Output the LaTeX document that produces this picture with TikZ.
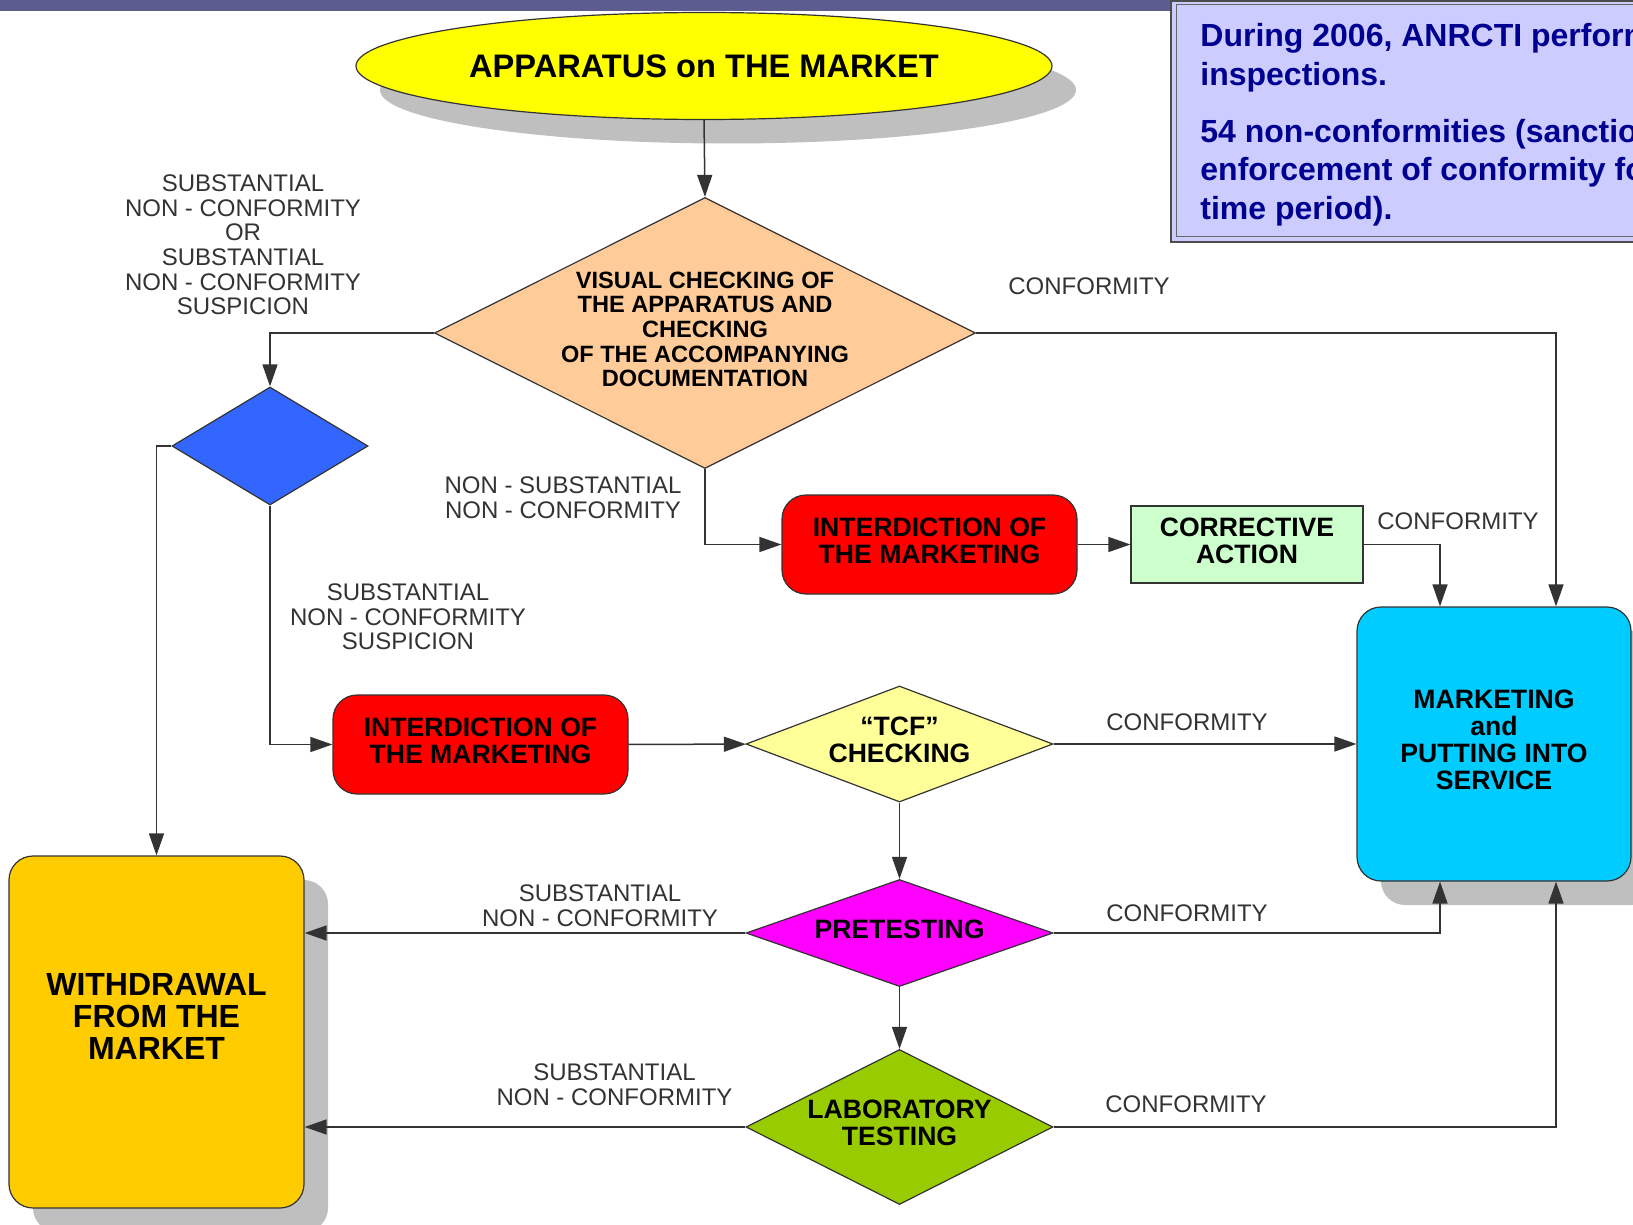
\documentclass[tikz,border=0pt]{standalone}
\usepackage{fontspec}
\setmainfont{Liberation Sans}
\usetikzlibrary{shapes.geometric,arrows.meta,shadows}
\definecolor{barcol}{HTML}{5C5C8E}
\definecolor{notefill}{HTML}{CCCCFF}
\definecolor{notetext}{HTML}{000091}
\definecolor{apyellow}{HTML}{FFFF00}
\definecolor{apricot}{HTML}{FFCC99}
\definecolor{suspblue}{HTML}{3366FF}
\definecolor{stopred}{HTML}{FF0000}
\definecolor{mint}{HTML}{CCFFCC}
\definecolor{skyblue}{HTML}{00CCFF}
\definecolor{paleyellow}{HTML}{FFFF99}
\definecolor{pretestpink}{HTML}{FF00FF}
\definecolor{leaf}{HTML}{99CC00}
\definecolor{wdgold}{HTML}{FFCC00}

\begin{document}
\begin{tikzpicture}[x=0.5pt, y=-0.5pt,
    outline/.style={draw=black!80, line width=0.6pt},
    block/.style={outline, align=center, font=\bfseries\fontsize{13.3pt}{13.5pt}\selectfont, execute at end node=\strut},
    check/.style={block, diamond, inner sep=0pt},
    remark/.style={align=center, text=black!80, font=\fontsize{12pt}{12.3pt}\selectfont},
    castshadow/.style={drop shadow={shadow xshift=12pt, shadow yshift=-12pt, fill=black!25, opacity=1}},
    flow/.style={draw=black!80, line width=0.75pt, -{Triangle[length=11pt, width=7.5pt]}}]
    \useasboundingbox (0,0) rectangle (1633,1225);
    \clip (0,0) rectangle (1633,1225);
    \fill[barcol] (0,0) rectangle (1173,11);
    \filldraw[fill=notefill, draw=black!70, line width=1pt] (1171,1) rectangle (1650,242);
    \draw[black!60, line width=0.5pt] (1176,5) rectangle (1650,237);
    \node[anchor=north west, align=left, inner sep=0pt, text=notetext, font=\bfseries\fontsize{16pt}{19.25pt}\selectfont] (facts) at (1200,23)
        {During 2006, ANRCTI perform\\inspections.\\[9.25pt]54 non-conformities (sanctio\\enforcement of conformity fo\\time period).};

    \node[outline, ellipse, fill=apyellow, inner sep=0pt, minimum width=348pt, minimum height=53.5pt, font=\bfseries\fontsize{16.3pt}{17pt}\selectfont, castshadow] (market) at (704,66) {APPARATUS on THE MARKET};
    \node[check, fill=apricot, minimum width=270.5pt, minimum height=135.5pt, shape aspect=2, font=\bfseries\fontsize{11.8pt}{12.35pt}\selectfont] (visual) at (705,333)
        {VISUAL CHECKING OF\\THE APPARATUS AND\\CHECKING\\OF THE ACCOMPANYING\\DOCUMENTATION};
    \node[outline, diamond, inner sep=0pt, fill=suspblue, minimum width=98pt, minimum height=59pt] (suspect) at (270,446) {};
    \node[block, rounded corners=12pt, fill=stopred, minimum width=147.5pt, minimum height=49.5pt] (stopa) at (929.5,544.5) {INTERDICTION OF\\THE MARKETING};
    \node[block, fill=mint, minimum width=116pt, minimum height=38.5pt] (fix) at (1247,544.5) {CORRECTIVE\\ACTION};
    \node[block, rounded corners=12pt, fill=skyblue, minimum width=137pt, minimum height=137pt, castshadow] (service) at (1494,744) {MARKETING\\and\\PUTTING INTO\\SERVICE};
    \node[block, rounded corners=12pt, fill=stopred, minimum width=147.5pt, minimum height=49.5pt] (stopb) at (480.5,744.5) {INTERDICTION OF\\THE MARKETING};
    \node[check, fill=paleyellow, minimum width=153.5pt, minimum height=58pt, shape aspect=2.65] (tcf) at (899.5,744) {“TCF”\\CHECKING};
    \node[check, fill=pretestpink, minimum width=153.5pt, minimum height=53.5pt, shape aspect=2.87] (pretest) at (899.5,933) {PRETESTING};
    \node[check, fill=leaf, minimum width=153.5pt, minimum height=77.5pt, shape aspect=2] (lab) at (899.5,1127) {LABORATORY\\TESTING};
    \node[block, rounded corners=12pt, fill=wdgold, minimum width=147.5pt, minimum height=176pt, font=\bfseries\fontsize{16pt}{16pt}\selectfont, castshadow] (withdraw) at (156.5,1032)
        {\raisebox{0pt}[\height][\dimexpr\depth+10.5pt\relax]{\begin{tabular}{@{}c@{}}WITHDRAWAL\\FROM THE\\MARKET\end{tabular}}};

    \node[remark] (lblsub) at (243,245) {SUBSTANTIAL\\NON - CONFORMITY\\OR\\SUBSTANTIAL\\NON - CONFORMITY\\SUSPICION};
    \node[remark] (lblok) at (1089,286) {CONFORMITY};
    \node[remark] (lblminor) at (563,497.5) {NON - SUBSTANTIAL\\NON - CONFORMITY};
    \node[remark] (lblfixok) at (1458,521) {CONFORMITY};
    \node[remark] (lblsusp) at (408,617) {SUBSTANTIAL\\NON - CONFORMITY\\SUSPICION};
    \node[remark] (lbltcfok) at (1187,722) {CONFORMITY};
    \node[remark] (lblpre) at (600,906) {SUBSTANTIAL\\NON - CONFORMITY};
    \node[remark] (lblpreok) at (1187,913) {CONFORMITY};
    \node[remark] (lbllab) at (614.5,1085) {SUBSTANTIAL\\NON - CONFORMITY};
    \node[remark] (lbllabok) at (1186,1104) {CONFORMITY};

    \draw[flow] (market.south) -- (visual.north);
    \draw[flow] (visual.west) -| (suspect.north);
    \draw[flow] (visual.east) -| ([xshift=31pt]service.north);
    \draw[flow] (visual.south) |- (stopa.west);
    \draw[flow] (stopa) -- (fix);
    \draw[flow] (fix.east) -| ([xshift=-27pt]service.north);
    \draw[flow] (suspect.west) -| (withdraw.north);
    \draw[flow] (suspect.south) |- (stopb.west);
    \draw[flow] (stopb) -- (tcf);
    \draw[flow] (tcf) -- (service);
    \draw[flow] (tcf) -- (pretest);
    \draw[flow] (pretest.west) -- (pretest.west -| withdraw.east);
    \draw[flow] (pretest.east) -| ([xshift=-27pt]service.south);
    \draw[flow] (pretest) -- (lab);
    \draw[flow] (lab.west) -- (lab.west -| withdraw.east);
    \draw[flow] (lab.east) -| ([xshift=31pt]service.south);
\end{tikzpicture}
\end{document}
